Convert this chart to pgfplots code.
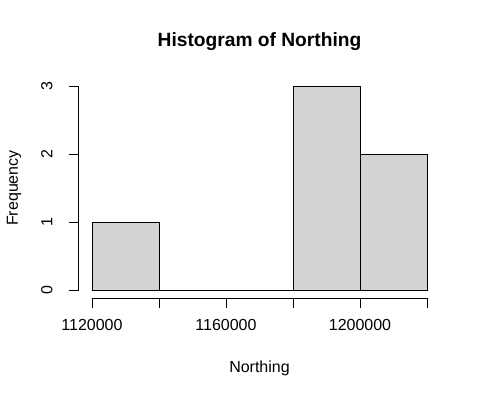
\documentclass[border=0pt]{standalone}
\usepackage{fontspec}
\setmainfont{Liberation Sans}
\usepackage{pgfplots}
\pgfplotsset{compat=1.18}
\definecolor{rgray}{RGB}{211,211,211}
\begin{document}
\begin{tikzpicture}[x=1pt,y=1pt]
\useasboundingbox (-78.6,-98.8) rectangle (402.4,298.2);
\begin{axis}[
  at={(0,0)}, anchor=south west,
  scale only axis, width=361.8pt, height=220.4pt,
  xmin=1116000, xmax=1224000, ymin=-0.12, ymax=3.12,
  axis x line*=bottom, axis y line*=left,
  axis line style={draw=none},
  tick align=outside, major tick length=9.6pt,
  tick style={black, line width=0.8pt},
  xtick={1120000,1140000,1160000,1180000,1200000,1220000},
  xticklabels={1120000,,1160000,,1200000,},
  ytick={0,1,2,3},
  scaled ticks=false,
  /pgf/number format/assume math mode=true,
  ticklabel style={font=\fontsize{16}{18}\selectfont},
  xticklabel style={yshift=-8pt},
  yticklabel style={rotate=90, anchor=south, yshift=13pt},
  clip=false,
]
\addplot[ybar interval, fill=rgray, draw=black, line width=0.8pt] coordinates {
(1120000,1) (1140000,0) (1160000,0) (1180000,3) (1200000,2) (1220000,2)};
\draw[line width=0.8pt] (axis cs:1120000,-0.12) -- (axis cs:1220000,-0.12);
\draw[line width=0.8pt] (axis cs:1116000,0) -- (axis cs:1116000,3);
\end{axis}
\node[font=\bfseries\fontsize{19.2}{22}\selectfont] at (180.9,256.2) {Histogram of Northing};
\node[font=\fontsize{16}{18}\selectfont] at (180.9,-69.8) {Northing};
\node[font=\fontsize{16}{18}\selectfont, rotate=90] at (-64.6,110.2) {Frequency};
\end{tikzpicture}
\end{document}
